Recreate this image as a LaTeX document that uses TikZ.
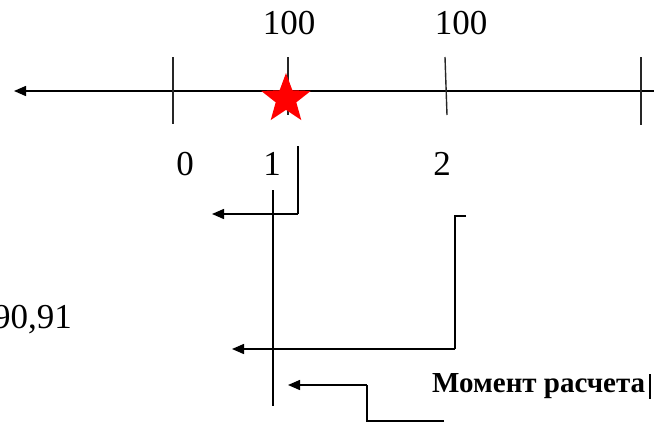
\documentclass[tikz,border=0pt]{standalone}
\usepackage{fontspec}
\setmainfont{Liberation Serif}
\usetikzlibrary{arrows.meta,shapes.geometric}
\begin{document}
\begin{tikzpicture}[x=1pt,y=-1pt,
  ln/.style={line width=1.4pt,black},
  arr/.style={ln,-{Triangle[length=12pt,width=10pt]}},
  tickln/.style={line width=1.4pt,black!85},
  lbl/.style={font=\fontsize{35}{38}\selectfont,inner sep=0pt,anchor=center},
  starshape/.style={star,star points=5,star point ratio=2.4,fill=red,draw=none,minimum size=52pt,inner sep=0pt}]
\useasboundingbox (0,0) rectangle (654,432);
% axis
\coordinate (axR) at (660,91);
\coordinate (axL) at (14,91);
\draw[arr] (axR) -- (axL);
% ticks
\coordinate (t0a) at (173,57); \coordinate (t0b) at (173,124);
\coordinate (t1a) at (288,57); \coordinate (t1b) at (288,115);
\coordinate (t2a) at (445,57); \coordinate (t2b) at (447,115);
\coordinate (t3a) at (641,57); \coordinate (t3b) at (641,125);
\draw[tickln] (t0a) -- (t0b);
\draw[tickln] (t1a) -- (t1b);
\draw[tickln] (t2a) -- (t2b);
\draw[tickln] (t3a) -- (t3b);
\node[starshape] (star) at (286,99) {};
% labels
\node[lbl] (h1) at (289,23) {100};
\node[lbl] (h2) at (461,23) {100};
\node[lbl] (n0) at (185,164) {0};
\node[lbl] (n1) at (272,164) {1};
\node[lbl] (n2) at (442,164) {2};
\node[lbl,anchor=east] (v) at (72,320) {90,91};
% long vertical
\coordinate (va) at (273,190); \coordinate (vb) at (273,406);
\draw[ln] (va) -- (vb);
% first arrow
\coordinate (a1top) at (298,146); \coordinate (a1c) at (298,214); \coordinate (a1tip) at (212,214);
\draw[ln] (a1top) -- (a1c);
\draw[arr] (a1c) -- (a1tip);
% second bracket
\coordinate (b2a) at (466,216); \coordinate (b2b) at (455,216); \coordinate (b2c) at (455,349); \coordinate (b2tip) at (232,349);
\draw[ln] (b2a) -- (b2b) -- (b2c);
\draw[arr] (b2c) -- (b2tip);
% third bracket
\coordinate (b3a) at (444,421); \coordinate (b3b) at (367,421); \coordinate (b3c) at (367,385); \coordinate (b3tip) at (288,385);
\draw[ln] (b3a) -- (b3b) -- (b3c);
\draw[arr] (b3c) -- (b3tip);
% text
\node[font=\fontsize{29}{32}\selectfont\bfseries,inner sep=0pt,anchor=west] (mr) at (432,386) {Момент расчета};
\coordinate (cur1) at (650,374); \coordinate (cur2) at (650,399);
\draw[line width=2pt] (cur1) -- (cur2);
\end{tikzpicture}
\end{document}
